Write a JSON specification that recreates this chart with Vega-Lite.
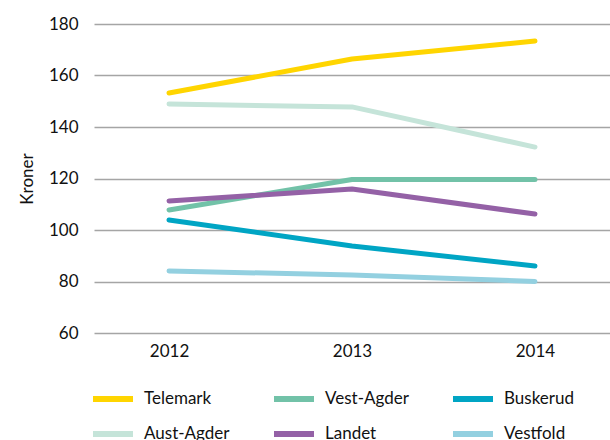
{
  "$schema": "https://vega.github.io/schema/vega-lite/v6.json",
  "autosize": {"type": "none"},
  "padding": {"left": 94, "top": 24, "right": 0, "bottom": 107},
  "width": 516,
  "height": 309,
  "background": "white",
  "config": {
    "font": "Lato",
    "view": {"stroke": null},
    "axis": {"labelFont": "Lato", "titleFont": "Lato", "labelColor": "#111", "titleColor": "#111"},
    "legend": {"labelFont": "Lato"}
  },
  "data": {
    "values": [
      {"year": "2012", "region": "Telemark", "value": 153.2},
      {"year": "2013", "region": "Telemark", "value": 166.4},
      {"year": "2014", "region": "Telemark", "value": 173.4},
      {"year": "2012", "region": "Aust-Agder", "value": 148.9},
      {"year": "2013", "region": "Aust-Agder", "value": 147.8},
      {"year": "2014", "region": "Aust-Agder", "value": 132.2},
      {"year": "2012", "region": "Vest-Agder", "value": 107.8},
      {"year": "2013", "region": "Vest-Agder", "value": 119.6},
      {"year": "2014", "region": "Vest-Agder", "value": 119.6},
      {"year": "2012", "region": "Landet", "value": 111.3},
      {"year": "2013", "region": "Landet", "value": 115.9},
      {"year": "2014", "region": "Landet", "value": 106.2},
      {"year": "2012", "region": "Buskerud", "value": 103.9},
      {"year": "2013", "region": "Buskerud", "value": 93.8},
      {"year": "2014", "region": "Buskerud", "value": 86.0},
      {"year": "2012", "region": "Vestfold", "value": 84.1},
      {"year": "2013", "region": "Vestfold", "value": 82.5},
      {"year": "2014", "region": "Vestfold", "value": 80.0}
    ]
  },
  "mark": {"type": "line", "strokeWidth": 5, "strokeCap": "round", "strokeJoin": "round"},
  "encoding": {
    "x": {
      "field": "year",
      "type": "ordinal",
      "scale": {"type": "point", "padding": 0.41},
      "axis": {"title": null, "labelAngle": 0, "domain": false, "ticks": false, "grid": false, "labelFontSize": 17, "labelPadding": 10}
    },
    "y": {
      "field": "value",
      "type": "quantitative",
      "scale": {"domain": [60, 180], "nice": false, "zero": false},
      "axis": {
        "title": "Kroner",
        "titleFontSize": 17,
        "titleFontWeight": "normal",
        "titlePadding": 12,
        "values": [60, 80, 100, 120, 140, 160, 180],
        "domain": false,
        "ticks": false,
        "grid": true,
        "gridColor": "#a5a5a5",
        "gridWidth": 1.5,
        "labelFontSize": 17,
        "labelPadding": 16
      }
    },
    "color": {
      "field": "region",
      "type": "nominal",
      "scale": {
        "domain": ["Telemark", "Aust-Agder", "Vest-Agder", "Landet", "Buskerud", "Vestfold"],
        "range": ["#FFD500", "#C5E4D9", "#72C2A8", "#9461A6", "#00A5C4", "#93D0E0"]
      },
      "legend": {
        "title": null,
        "orient": "none",
        "legendX": -4,
        "legendY": 352,
        "columns": 3,
        "columnPadding": 32,
        "rowPadding": -5,
        "symbolType": "stroke",
        "symbolSize": 1600,
        "symbolStrokeWidth": 6,
        "labelFontSize": 17,
        "labelColor": "#111",
        "labelOffset": 8
      }
    }
  }
}
